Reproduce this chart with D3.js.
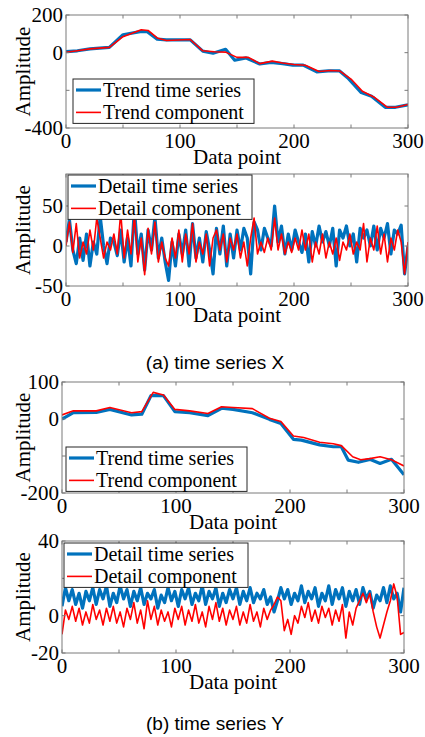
<!DOCTYPE html>
<html>
<head>
<meta charset="utf-8">
<script src="https://cdn.jsdelivr.net/npm/d3@7"></script>
<style>
  html, body { margin: 0; padding: 0; background: #fff; }
  svg text { font-family: "Liberation Serif", "Times New Roman", serif; fill: #000; }
  .caption { font-family: "Liberation Sans", Arial, sans-serif; }
</style>
</head>
<body>
<div id="chart"></div>
<script>
// ---- data ----
// (a) time series X, trend
const trendXBlueX = [0, 10, 21, 38, 50, 65, 71, 80, 88, 109, 120, 129, 140, 148, 158, 170, 180, 190, 199, 208, 220, 230, 240, 247, 259, 268, 280, 289, 300];
const trendXBlueY = [5, 10, 20, 28, 95, 112, 112, 72, 68, 68, 8, -3, 18, -40, -28, -60, -52, -58, -66, -66, -102, -97, -97, -133, -212, -232, -290, -290, -277];
const trendXRedX = [0, 10, 21, 38, 50, 66, 72, 80, 88, 109, 120, 130, 140, 150, 160, 170, 181, 190, 200, 210, 222, 232, 240, 250, 260, 270, 282, 290, 300];
const trendXRedY = [2, 10, 20, 28, 85, 122, 118, 78, 65, 70, 10, 5, 3, -25, -25, -58, -45, -55, -63, -67, -100, -95, -97, -140, -205, -235, -290, -290, -275];

// (a) time series X, detail (one value every 3 data points, 0..300)
const detailStep = 3;
const detailXBlue = [5, 33, -5, -22, 10, -18, 15, -25, 5, -10, 37, 0, -22, 10, 5, -12, 20, -20, 10, -25,
  47, -10, 15, -30, 20, -5, 36, -15, 10, -20, -43, 5, -25, 15, -10, 20, -25, 28, -15, 10,
  -20, 18, -5, -35, 22, -10, 25, -25, 15, -15, 20, -5, 22, 10, -35, 30, 20, -5, 22, 10,
  0, 50, 5, 25, -10, 15, -5, 20, 5, -8, 15, -20, 18, 0, 25, 5, 18, 0, 22, -25,
  20, 10, 25, 0, 15, -20, 22, 10, 20, 0, 25, -5, 22, 10, 28, -10, 20, 15, 26, -35, 0];
const detailXRed = [0, 30, -8, 28, -15, 5, -10, 20, -5, 35, 10, -15, 5, -5, 15, -10, 42, -15, 20, -10,
  38, -20, 10, -36, 22, -10, 30, -20, 5, -15, -25, 10, -15, 20, -20, 15, -10, 28, -20, 5,
  -10, 15, -25, 10, 20, -5, 15, -20, 10, -5, 15, -15, 5, -25, 10, 35, -10, 5, -8, 10,
  -5, 35, -5, 15, -10, 5, -8, 10, -5, 20, -5, 15, -20, 5, -10, 15, -15, 5, -10, 10,
  -18, 5, -5, 15, -10, 5, -5, 28, -20, 10, -5, 25, -10, 15, -20, 10, -5, 20, 5, -35, 5];

// (b) time series Y, trend
const trendYBlueX = [0, 10, 30, 42, 61, 70, 78, 89, 99, 112, 128, 140, 150, 167, 182, 192, 203, 210, 226, 238, 245, 251, 260, 270, 279, 289, 300];
const trendYBlueY = [0, 17, 18, 26, 11, 13, 63, 63, 20, 17, 9, 29, 26, 17, -1, -12, -55, -57, -70, -75, -75, -111, -117, -109, -120, -109, -151];
const trendYRedX = [0, 10, 30, 42, 61, 70, 80, 89, 99, 112, 128, 140, 150, 167, 182, 192, 203, 212, 226, 238, 245, 255, 262, 270, 279, 289, 300];
const trendYRedY = [11, 22, 22, 31, 17, 20, 72, 65, 26, 22, 15, 33, 31, 28, 2, -7, -46, -50, -63, -67, -72, -102, -110, -107, -102, -110, -127];

// (b) time series Y, detail (one value every 3 data points, 0..300)
const detailYBlue = [5, 15, 8, 14, 6, 12, 4, 13, 8, 15, 6, 14, 9, 16, 5, 12, 7, 16, 9, 14,
  5, 13, 8, 15, 6, 12, 9, 14, 4, 11, 7, 15, 8, 13, 5, 14, 9, 15, 6, 12,
  8, 16, 6, 13, 9, 15, 5, 12, 7, 14, 9, 15, 6, 13, 8, 15, 7, 12, 9, 14,
  6, 10, 2, 8, 15, 9, 14, 6, 12, 8, 16, 7, 13, 9, 15, 5, 12, 8, 16, 6,
  14, 9, 15, 5, 13, 8, 14, 6, 15, 9, 13, 4, 11, 8, 15, 7, 16, 9, 12, 2, 15];
const detailYRed = [-10, 3, -2, 5, -3, 4, -5, 2, -4, 6, -2, 3, -5, 4, -3, 5, -4, 2, -6, 4,
  -2, 7, -4, 3, -7, 8, -2, 5, -5, 3, -3, 2, -6, 4, -2, 5, -5, 3, -3, 6,
  -4, 2, -6, 5, -2, 7, -3, 4, -5, 3, -2, 5, -5, 2, -4, 6, -3, 2, -6, 4,
  -2, 3, 6, 10, 8, -8, -2, -10, 0, -4, 5, -1, 7, -3, 3, -4, 5, -1, 4, -5,
  3, -3, 6, -12, 2, -5, 4, 8, 12, 7, 12, 2, -6, -12, -5, 2, 8, 17, 10, -10, -9];

const xTicks = [0, 50, 100, 150, 200, 250, 300];
const xTickLabels = [0, 100, 200, 300];

const blue = "#0072BD", red = "#FF0000", frameColor = "#7a7a7a";

const width = 425, height = 737;
const svg = d3.select("#chart").append("svg")
    .attr("width", width)
    .attr("height", height);

const detailIdx = d => d3.range(d.length).map(i => i * detailStep);

const panels = [
  {
    left: 66, right: 408, top: 15, bottom: 128,
    domain: [-400, 200], ticks: [-400, -200, 0, 200], labels: [200, 0, -400],
    series: [
      { x: trendXBlueX, y: trendXBlueY, color: blue, w: 3.2, name: "Trend time series" },
      { x: trendXRedX, y: trendXRedY, color: red, w: 1.6, name: "Trend component" }
    ],
    legend: { x: 73, y: 79, w: 181 }
  },
  {
    left: 66, right: 408, top: 174, bottom: 286,
    domain: [-50, 90], ticks: [-50, 0, 50], labels: [50, 0, -50],
    series: [
      { x: detailIdx(detailXBlue), y: detailXBlue, color: blue, w: 3.2, name: "Detail time series" },
      { x: detailIdx(detailXRed), y: detailXRed, color: red, w: 1.6, name: "Detail component" }
    ],
    legend: { x: 68, y: 175, w: 184 }
  },
  {
    left: 62, right: 404, top: 382, bottom: 493,
    domain: [-200, 100], ticks: [-200, -100, 0, 100], labels: [100, 0, -200],
    series: [
      { x: trendYBlueX, y: trendYBlueY, color: blue, w: 3.2, name: "Trend time series" },
      { x: trendYRedX, y: trendYRedY, color: red, w: 1.6, name: "Trend component" }
    ],
    legend: { x: 66, y: 447, w: 181 }
  },
  {
    left: 62, right: 404, top: 541, bottom: 653,
    domain: [-20, 40], ticks: [-20, 0, 20, 40], labels: [40, 0, -20],
    series: [
      { x: detailIdx(detailYBlue), y: detailYBlue, color: blue, w: 3.2, name: "Detail time series" },
      { x: detailIdx(detailYRed), y: detailYRed, color: red, w: 1.6, name: "Detail component" }
    ],
    legend: { x: 64, y: 543, w: 184 }
  }
];

function drawPanel(p) {
  const g = svg.append("g");
  const x = d3.scaleLinear().domain([0, 300]).range([p.left, p.right]);
  const y = d3.scaleLinear().domain(p.domain).range([p.bottom, p.top]);
  const tl = 3.5;

  // keep lines inside the box
  const clipId = "clip" + p.top;
  svg.append("clipPath").attr("id", clipId)
    .append("rect")
    .attr("x", p.left).attr("y", p.top)
    .attr("width", p.right - p.left).attr("height", p.bottom - p.top);

  const line = d3.line()
    .x(d => x(d[0]))
    .y(d => y(d[1]));

  p.series.forEach(s => {
    g.append("path")
      .datum(s.x.map((v, i) => [v, s.y[i]]))
      .attr("clip-path", `url(#${clipId})`)
      .attr("fill", "none")
      .attr("stroke", s.color)
      .attr("stroke-width", s.w)
      .attr("stroke-linejoin", "round")
      .attr("d", line);
  });

  // frame
  g.append("rect")
    .attr("x", p.left).attr("y", p.top)
    .attr("width", p.right - p.left).attr("height", p.bottom - p.top)
    .attr("fill", "none")
    .attr("stroke", frameColor)
    .attr("stroke-width", 1);

  // ticks, inward, all four sides
  xTicks.forEach(t => {
    g.append("line").attr("x1", x(t)).attr("x2", x(t)).attr("y1", p.bottom).attr("y2", p.bottom - tl).attr("stroke", frameColor);
    g.append("line").attr("x1", x(t)).attr("x2", x(t)).attr("y1", p.top).attr("y2", p.top + tl).attr("stroke", frameColor);
  });
  p.ticks.forEach(t => {
    g.append("line").attr("x1", p.left).attr("x2", p.left + tl).attr("y1", y(t)).attr("y2", y(t)).attr("stroke", frameColor);
    g.append("line").attr("x1", p.right).attr("x2", p.right - tl).attr("y1", y(t)).attr("y2", y(t)).attr("stroke", frameColor);
  });

  // tick labels
  g.selectAll(".xl").data(xTickLabels).join("text")
    .attr("x", d => x(d))
    .attr("y", p.bottom + 13)
    .attr("dy", "0.35em")
    .attr("text-anchor", "middle")
    .style("font-size", "21px")
    .text(d => d);

  g.selectAll(".yl").data(p.labels).join("text")
    .attr("x", p.left - 3)
    .attr("y", d => y(d))
    .attr("dy", "0.35em")
    .attr("text-anchor", "end")
    .style("font-size", "21px")
    .text(d => d);

  // axis titles
  g.append("text")
    .attr("x", (p.left + p.right) / 2)
    .attr("y", p.bottom + 29)
    .attr("dy", "0.35em")
    .attr("text-anchor", "middle")
    .style("font-size", "21px")
    .text("Data point");

  g.append("text")
    .attr("transform", `translate(23,${(p.top + p.bottom) / 2}) rotate(-90)`)
    .attr("dy", "0.35em")
    .attr("text-anchor", "middle")
    .style("font-size", "21px")
    .text("Amplitude");

  // legend
  const L = p.legend;
  const rowGap = 22.4, pad = 11;
  const lg = g.append("g");
  lg.append("rect")
    .attr("x", L.x).attr("y", L.y).attr("width", L.w).attr("height", rowGap + 2 * pad)
    .attr("fill", "#fff").attr("stroke", "#262626").attr("stroke-width", 1);
  p.series.forEach((s, i) => {
    const ry = L.y + pad + i * rowGap;
    lg.append("line")
      .attr("x1", L.x + 3).attr("x2", L.x + 28)
      .attr("y1", ry).attr("y2", ry)
      .attr("stroke", s.color).attr("stroke-width", s.w);
    lg.append("text")
      .attr("x", L.x + 30).attr("y", ry)
      .attr("dy", "0.33em")
      .style("font-size", "20px")
      .text(s.name);
  });
}

panels.forEach(drawPanel);

// captions
svg.append("text").attr("class", "caption")
  .attr("x", 215).attr("y", 362).attr("dy", "0.35em")
  .attr("text-anchor", "middle")
  .style("font-size", "19px")
  .text("(a) time series X");

svg.append("text").attr("class", "caption")
  .attr("x", 215).attr("y", 723).attr("dy", "0.35em")
  .attr("text-anchor", "middle")
  .style("font-size", "19px")
  .text("(b) time series Y");
</script>
</body>
</html>
